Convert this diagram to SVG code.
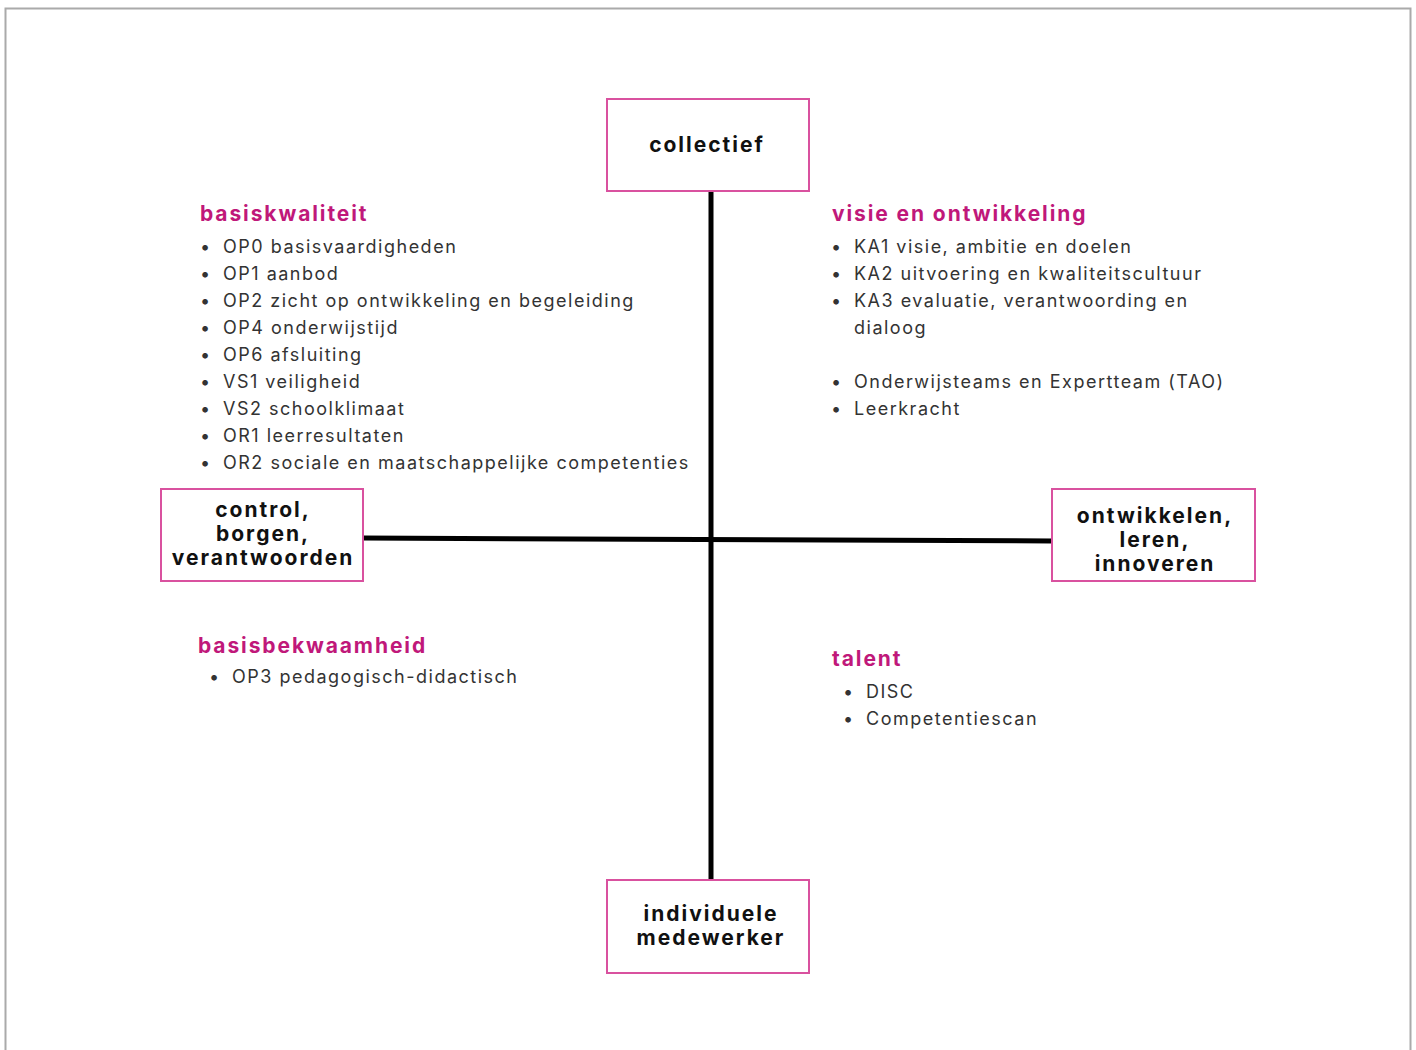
<svg xmlns="http://www.w3.org/2000/svg" width="1416" height="1050" viewBox="0 0 1416 1050">
<style>
.box{fill:#fff;stroke:#d9519f;stroke-width:2}
.nt{font-family:Inter,"Open Sans","Liberation Sans",sans-serif;font-weight:700;font-size:21px;letter-spacing:2px;fill:#111;text-anchor:middle}
.hd{font-family:Inter,"Open Sans","Liberation Sans",sans-serif;font-weight:700;font-size:21px;letter-spacing:1.9px;fill:#c0187a}
.it{font-family:Inter,"Open Sans","Liberation Sans",sans-serif;font-size:18px;letter-spacing:1.5px;fill:#333}
.ax{stroke:#000;stroke-width:5;fill:none}
</style>
<rect x="0" y="0" width="1416" height="1050" fill="#fff"/>
<path d="M5.5 1050 V8.5 H1410.5 V1050" fill="none" stroke="#aaa" stroke-width="2"/>
<g id="connectors">
<line class="ax" x1="711" y1="191" x2="711" y2="880"/>
<line class="ax" x1="363" y1="538" x2="1052" y2="541"/>
</g>
<g id="node-collectief">
<rect class="box" x="607" y="99" width="202" height="92"/>
<text class="nt" x="707" y="152">collectief</text>
</g>
<g id="node-control">
<rect class="box" x="161" y="489" width="202" height="92"/>
<text class="nt" x="263" y="517">control,</text>
<text class="nt" x="263" y="541">borgen,</text>
<text class="nt" x="263" y="565">verantwoorden</text>
</g>
<g id="node-ontwikkelen">
<rect class="box" x="1052" y="489" width="203" height="92"/>
<text class="nt" x="1155" y="523">ontwikkelen,</text>
<text class="nt" x="1155" y="547">leren,</text>
<text class="nt" x="1155" y="571">innoveren</text>
</g>
<g id="node-individuele">
<rect class="box" x="607" y="880" width="202" height="93"/>
<text class="nt" x="711" y="921">individuele</text>
<text class="nt" x="711" y="945">medewerker</text>
</g>
<g id="basiskwaliteit">
<text class="hd" x="200" y="221">basiskwaliteit</text>
<g class="it">
<text x="200" y="253">•</text><text x="223" y="253">OP0 basisvaardigheden</text>
<text x="200" y="280">•</text><text x="223" y="280">OP1 aanbod</text>
<text x="200" y="307">•</text><text x="223" y="307">OP2 zicht op ontwikkeling en begeleiding</text>
<text x="200" y="334">•</text><text x="223" y="334">OP4 onderwijstijd</text>
<text x="200" y="361">•</text><text x="223" y="361">OP6 afsluiting</text>
<text x="200" y="388">•</text><text x="223" y="388">VS1 veiligheid</text>
<text x="200" y="415">•</text><text x="223" y="415">VS2 schoolklimaat</text>
<text x="200" y="442">•</text><text x="223" y="442">OR1 leerresultaten</text>
<text x="200" y="469">•</text><text x="223" y="469">OR2 sociale en maatschappelijke competenties</text>
</g>
</g>
<g id="visie">
<text class="hd" x="832" y="221">visie en ontwikkeling</text>
<g class="it">
<text x="831" y="253">•</text><text x="854" y="253">KA1 visie, ambitie en doelen</text>
<text x="831" y="280">•</text><text x="854" y="280">KA2 uitvoering en kwaliteitscultuur</text>
<text x="831" y="307">•</text><text x="854" y="307">KA3 evaluatie, verantwoording en</text>
<text x="854" y="334">dialoog</text>
<text x="831" y="388">•</text><text x="854" y="388">Onderwijsteams en Expertteam (TAO)</text>
<text x="831" y="415">•</text><text x="854" y="415">Leerkracht</text>
</g>
</g>
<g id="basisbekwaamheid">
<text class="hd" x="198" y="653">basisbekwaamheid</text>
<g class="it">
<text x="209" y="683">•</text><text x="232" y="683">OP3 pedagogisch-didactisch</text>
</g>
</g>
<g id="talent">
<text class="hd" x="832" y="666">talent</text>
<g class="it">
<text x="843" y="698">•</text><text x="866" y="698">DISC</text>
<text x="843" y="725">•</text><text x="866" y="725">Competentiescan</text>
</g>
</g>
</svg>
